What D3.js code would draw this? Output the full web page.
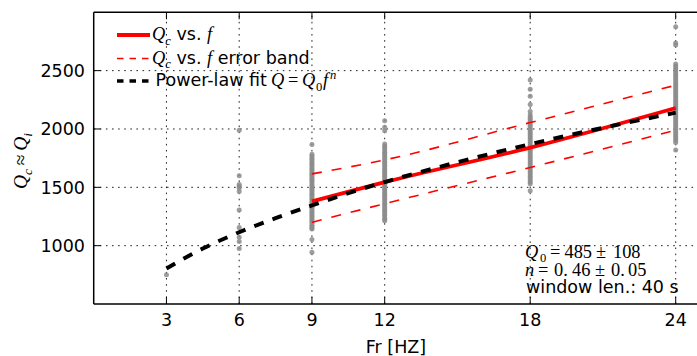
<!DOCTYPE html>
<html><head><meta charset="utf-8">
<script src="https://cdn.jsdelivr.net/npm/d3@7"></script>
<style>body{margin:0;background:#fff}</style>
</head><body><svg id="c" width="697" height="356"></svg>
<script>
// ---------- data ----------
const xTickValues = [3, 6, 9, 12, 18, 24];
const yTickValues = [1000, 1500, 2000, 2500];

const q3 = [750];
const q6 = [1990, 1600, 1525, 1510, 1495, 1465, 1305, 1155, 1072, 1035, 975];
const q9 = [1866, 1783, 1766, 1749, 1737, 1719, 1704, 1692, 1674, 1660, 1647, 1628, 1615, 1601, 1586, 1569, 1556, 1541, 1523, 1511, 1494, 1481, 1466, 1448, 1436, 1421, 1404, 1392, 1374, 1361, 1347, 1329, 1316, 1299, 1287, 1269, 1255, 1242, 1224, 1211, 1196, 1179, 1166, 1151, 1143, 1052, 943];
const q12 = [2071, 2014, 1985, 1871, 1852, 1838, 1820, 1801, 1790, 1772, 1755, 1741, 1722, 1710, 1693, 1680, 1662, 1649, 1631, 1618, 1602, 1590, 1571, 1558, 1540, 1527, 1512, 1498, 1482, 1470, 1451, 1440, 1423, 1408, 1395, 1379, 1362, 1350, 1333, 1318, 1302, 1290, 1271, 1258, 1240, 1226, 1214];
const q18 = [2420, 2340, 2280, 2210, 2150, 2120, 2101, 2083, 2066, 2048, 2031, 2012, 1996, 1979, 1961, 1944, 1927, 1910, 1892, 1875, 1858, 1840, 1823, 1806, 1789, 1771, 1754, 1737, 1720, 1702, 1685, 1668, 1650, 1633, 1616, 1598, 1581, 1563, 1546, 1530, 1470];
const q24 = [2877, 2737, 2720, 2557, 2540, 2522, 2505, 2488, 2470, 2453, 2436, 2419, 2401, 2384, 2367, 2349, 2332, 2315, 2298, 2280, 2263, 2246, 2229, 2211, 2194, 2177, 2160, 2142, 2125, 2108, 2091, 2073, 2056, 2039, 2021, 2004, 1987, 1970, 1952, 1935, 1918, 1901, 1885, 1820];
const scatterSets = [[3, q3], [6, q6], [9, q9], [12, q12], [18, q18], [24, q24]];

const fitF = [9, 12, 18, 24];
const fitQ = [1380, 1545, 1840, 2180];
const bandF = [9, 12, 18, 24];
const bandUpper = [1615, 1735, 2055, 2375];
const bandLower = [1200, 1360, 1670, 1990];
const powF = [3, 4.5, 6, 7.5, 9, 10.5, 12, 15, 18, 21, 24];
const powQ = [805, 975, 1115, 1235, 1345, 1450, 1545, 1715, 1870, 2010, 2140];

// ---------- setup ----------
const svg = d3.select('#c');
const L = 93.7, T = 12.3, B = 304;
const x = d3.scaleLinear().domain([0, 27]).range([L, L + 27 * 24.25]);
const y = d3.scaleLinear().domain([500, 3000]).range([B, T]);
const R = x(27);
const SANS = 'DejaVu Sans, sans-serif';
const SERIF = 'Liberation Serif, DejaVu Serif, serif';
const FS = 17.5;

svg.append('clipPath').attr('id', 'pc').append('rect')
  .attr('x', L).attr('y', T).attr('width', R - L).attr('height', B - T);

// grid
const grid = svg.append('g').attr('stroke', '#222').attr('stroke-width', 1).attr('stroke-dasharray', '1.6,4.5');
grid.selectAll('.gx').data(xTickValues).join('line')
  .attr('x1', d => x(d)).attr('x2', d => x(d)).attr('y1', B).attr('y2', T);
grid.selectAll('.gy').data(yTickValues).join('line')
  .attr('y1', d => y(d)).attr('y2', d => y(d)).attr('x1', L).attr('x2', R);

// scatter
const pts = scatterSets.flatMap(([f, arr]) => arr.map(q => ({ f, q })));
svg.append('g').attr('clip-path', 'url(#pc)').selectAll('circle').data(pts).join('circle')
  .attr('cx', d => x(d.f)).attr('cy', d => y(d.q)).attr('r', 2.5)
  .attr('fill', '#8c8c8c').attr('fill-opacity', 0.85);

// lines
const line = d3.line().x(d => x(d[0])).y(d => y(d[1])).curve(d3.curveMonotoneX);
const zip = (a, b) => a.map((v, i) => [v, b[i]]);
const lines = svg.append('g').attr('fill', 'none').attr('clip-path', 'url(#pc)');
lines.append('path').attr('d', line(zip(bandF, bandUpper))).attr('stroke', '#ff0000').attr('stroke-width', 1.6).attr('stroke-dasharray', '10,10');
lines.append('path').attr('d', line(zip(bandF, bandLower))).attr('stroke', '#ff0000').attr('stroke-width', 1.6).attr('stroke-dasharray', '10,10');
lines.append('path').attr('d', line(zip(fitF, fitQ))).attr('stroke', '#ff0000').attr('stroke-width', 3.8);
lines.append('path').attr('d', line(zip(powF, powQ))).attr('stroke', '#000').attr('stroke-width', 4).attr('stroke-dasharray', '10,9.5');

// spines
const sp = svg.append('g').attr('stroke', '#000').attr('stroke-width', 1.5).attr('fill', 'none');
sp.append('line').attr('x1', L).attr('x2', L).attr('y1', T).attr('y2', B);
sp.append('line').attr('x1', L).attr('x2', R).attr('y1', B).attr('y2', B);
sp.append('line').attr('x1', L).attr('x2', R).attr('y1', T).attr('y2', T);

// ticks (inward) and labels
const tk = svg.append('g').attr('stroke', '#000').attr('stroke-width', 1);
xTickValues.forEach(v => {
  tk.append('line').attr('x1', x(v)).attr('x2', x(v)).attr('y1', B).attr('y2', B - 7);
  tk.append('line').attr('x1', x(v)).attr('x2', x(v)).attr('y1', T).attr('y2', T + 7);
});
yTickValues.forEach(v => {
  tk.append('line').attr('x1', L).attr('x2', L + 7).attr('y1', y(v)).attr('y2', y(v));
});
svg.append('g').selectAll('text').data(xTickValues).join('text')
  .attr('x', d => x(d)).attr('y', 326).attr('text-anchor', 'middle')
  .attr('font-family', SANS).attr('font-size', FS).text(d => d);
svg.append('g').selectAll('text').data(yTickValues).join('text')
  .attr('x', 85).attr('y', d => y(d) + 6.3).attr('text-anchor', 'end')
  .attr('font-family', SANS).attr('font-size', FS).text(d => d);

// rich text helper
function rich(sel, parts, size) {
  const fs = size || FS;
  let shift = 0;
  parts.forEach(p => {
    const target = p.sub ? 4.5 : p.sup ? -7 : 0;
    const ts = sel.append('tspan').text(p.t)
      .attr('font-family', p.f === 's' ? SANS : SERIF)
      .attr('font-style', p.i ? 'italic' : 'normal')
      .attr('font-size', (p.sub || p.sup) ? fs * 0.72 : (p.f === 's' ? FS : fs * 1.05));
    if (p.x !== undefined) ts.attr('x', p.x);
    if (target !== shift) { ts.attr('dy', target - shift); shift = target; }
  });
}

// x label
svg.append('text').attr('x', 396).attr('y', 353).attr('text-anchor', 'middle')
  .attr('font-family', SANS).attr('font-size', FS).text('Fr [HZ]');
// y label
const yl = svg.append('text').attr('transform', 'translate(27,161) rotate(-90)').attr('text-anchor', 'middle');
rich(yl, [{ t: 'Q', i: 1 }, { t: 'c', i: 1, sub: 1 }, { t: '\u2009≈\u2009' }, { t: 'Q', i: 1 }, { t: 'i', i: 1, sub: 1 }], 18.5);

// legend
const lg = svg.append('g');
lg.append('line').attr('x1', 117).attr('x2', 150).attr('y1', 35).attr('y2', 35).attr('stroke', '#ff0000').attr('stroke-width', 3.8);
lg.append('line').attr('x1', 117).attr('x2', 150).attr('y1', 58.5).attr('y2', 58.5).attr('stroke', '#ff0000').attr('stroke-width', 1.4).attr('stroke-dasharray', '6.5,6');
lg.append('line').attr('x1', 117).attr('x2', 150).attr('y1', 81).attr('y2', 81).attr('stroke', '#000').attr('stroke-width', 3.5).attr('stroke-dasharray', '6.5,6');
rich(lg.append('text').attr('x', 152).attr('y', 40), [{ t: 'Q', i: 1 }, { t: 'c', i: 1, sub: 1 }, { t: ' vs. ', f: 's' }, { t: 'f', i: 1 }]);
rich(lg.append('text').attr('x', 152).attr('y', 63.5), [{ t: 'Q', i: 1 }, { t: 'c', i: 1, sub: 1 }, { t: ' vs. ', f: 's' }, { t: 'f', i: 1 }, { t: ' error band', f: 's' }]);
rich(lg.append('text').attr('x', 155.5).attr('y', 86.3), [{ t: 'Power-law fit', f: 's' }, { t: 'Q', i: 1, x: 271 }, { t: '=', x: 288 }, { t: 'Q', i: 1, x: 302 }, { t: '0', sub: 1, x: 316 }, { t: 'f', i: 1, x: 323 }, { t: 'n', i: 1, sup: 1, x: 330 }]);

// annotation
const an = svg.append('g');
rich(an.append('text').attr('x', 525).attr('y', 257.5), [{ t: 'Q', i: 1, x: 525 }, { t: '0', sub: 1, x: 540 }, { t: '=', x: 550 }, { t: '485', x: 564.5 }, { t: '±', x: 596 }, { t: '108', x: 613 }]);
rich(an.append('text').attr('x', 525).attr('y', 275.5), [{ t: 'n', i: 1, x: 525 }, { t: '=', x: 538 }, { t: '0.', x: 554 }, { t: '46', x: 572 }, { t: '±', x: 595 }, { t: '0.', x: 611 }, { t: '05', x: 628 }]);
an.append('text').attr('x', 526).attr('y', 292.5).attr('font-family', SANS).attr('font-size', FS).text('window len.: 40 s');
</script></body></html>
